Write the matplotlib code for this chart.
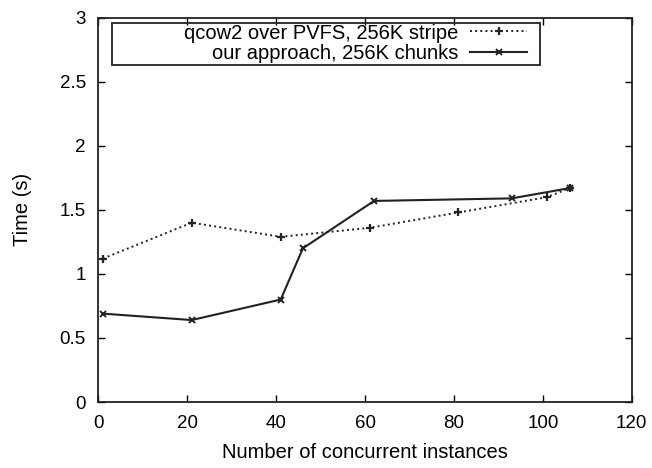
import matplotlib
matplotlib.use("Agg")
import matplotlib.pyplot as plt
import matplotlib.patches as mpatches

plt.rcParams.update({
    'font.family': 'Liberation Sans',
    'font.size': 14,
})

# qcow2 over PVFS, 256K stripe
qcow_x = [1, 21, 41, 61, 81, 101, 106]
qcow_y = [1.12, 1.40, 1.29, 1.36, 1.48, 1.60, 1.67]

# our approach, 256K chunks
ours_x = [1, 21, 41, 46, 62, 93, 106]
ours_y = [0.69, 0.64, 0.80, 1.20, 1.57, 1.59, 1.67]

xticks = [0, 20, 40, 60, 80, 100, 120]
yticks = [0, 0.5, 1, 1.5, 2, 2.5, 3]
ytick_labels = ['0', '0.5', '1', '1.5', '2', '2.5', '3']

fig = plt.figure(figsize=(6.52, 4.68), dpi=100)
ax = fig.add_axes([0.151, 0.141, 0.818, 0.821])

ax.plot(qcow_x, qcow_y, color='#222222', linestyle=':', linewidth=1.4,
        marker='+', markersize=6, markeredgewidth=1.6,
        label='qcow2 over PVFS, 256K stripe')
ax.plot(ours_x, ours_y, color='#222222', linestyle='-', linewidth=1.5,
        marker='x', markersize=5, markeredgewidth=1.4,
        label='our approach, 256K chunks')

ax.set_xlim(0, 120)
ax.set_ylim(0, 3)
ax.set_xticks(xticks)
ax.set_yticks(yticks)
ax.set_yticklabels(ytick_labels)
ax.tick_params(direction='in', top=True, right=True, length=5, width=1,
               labelsize=13.5)
ax.tick_params(axis='x', pad=9)
ax.tick_params(axis='y', pad=9)
for s in ax.spines.values():
    s.set_linewidth(1.3)
    s.set_color('#222222')

ax.set_xlabel('Number of concurrent instances', fontsize=14.5, labelpad=8)
ax.set_ylabel('Time (s)', fontsize=14.5, labelpad=20)

# gnuplot-style key: wide box, right-aligned text, sample on the right
leg = ax.legend(loc='upper right', bbox_to_anchor=(0.803, 0.985), markerfirst=False,
                frameon=False, fontsize=14.5, borderpad=0, handlelength=2.8,
                labelspacing=0.05, borderaxespad=0, handletextpad=0.6)
for t in leg.get_texts():
    t.set_ha('right')
ax.add_patch(mpatches.Rectangle((0.026, 0.878), 0.802, 0.109, transform=ax.transAxes,
                                fill=False, edgecolor='#222222', linewidth=1.3,
                                zorder=5))

fig.savefig('out.png', dpi=100)
